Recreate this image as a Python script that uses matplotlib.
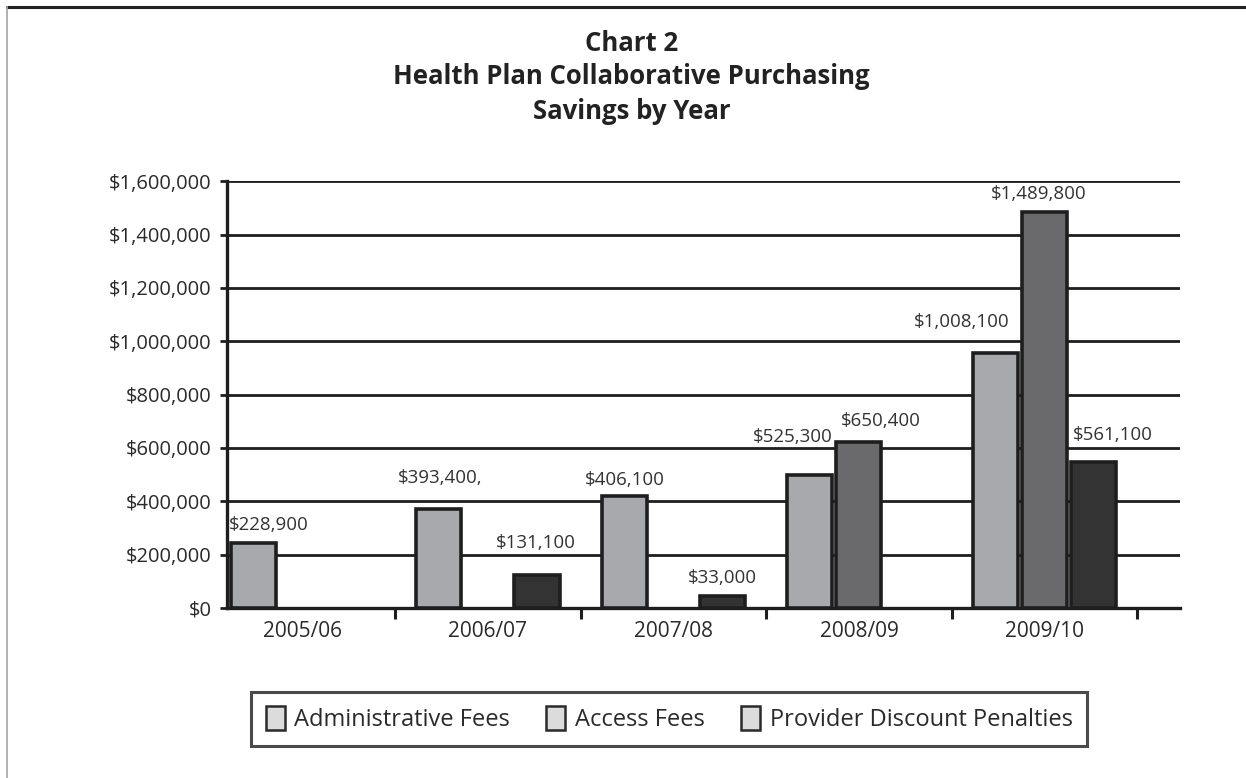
import matplotlib.pyplot as plt
from matplotlib.lines import Line2D
from matplotlib.patches import Patch
import numpy as np

plt.rcParams['font.family'] = ['Open Sans', 'DejaVu Sans']

years = ['2005/06', '2006/07', '2007/08', '2008/09', '2009/10']
series = ['Administrative Fees', 'Access Fees', 'Provider Discount Penalties']

# bar heights as drawn in the picture
admin_fees = [242000, 370000, 420000, 500000, 957000]
access_fees = [0, 0, 0, 624000, 1485000]
provider_penalties = [0, 122000, 45000, 0, 549000]

# value labels as printed
admin_labels = ['$228,900', '$393,400,', '$406,100', '$525,300', '$1,008,100']
access_labels = ['', '', '', '$650,400', '$1,489,800']
provider_labels = ['', '$131,100', '$33,000', '', '$561,100']

y_ticks = [0, 200000, 400000, 600000, 800000, 1000000, 1200000, 1400000, 1600000]

colors = ['#a8a9ac', '#6a6a6c', '#333333']
edge = '#1e1e1e'

fig = plt.figure(figsize=(12.46, 7.78), dpi=100)
ax = fig.add_axes([0.182, 0.2185, 0.765, 0.5485])

x = np.arange(len(years))
width = 0.243
step = 0.265
all_vals = [admin_fees, access_fees, provider_penalties]
all_labels = [admin_labels, access_labels, provider_labels]
# small pixel nudges for the value labels (dx, dy)
nudges = [
    [(16, 14), (2, 26), (1, 11), (-17, 33), (-34, 26)],
    [(0, 0), (0, 0), (0, 0), (22, 16), (-6, 13)],
    [(0, 0), (-1, 28), (0, 13), (0, 0), (19, 22)],
]

for k, (vals, labs) in enumerate(zip(all_vals, all_labels)):
    xs = x + (k - 1) * step
    for i in range(len(years)):
        if vals[i] <= 0:
            continue
        ax.bar(xs[i], vals[i], width, color=colors[k], edgecolor=edge,
               linewidth=2.6, zorder=3)
        dx, dy = nudges[k][i]
        ax.annotate(labs[i], (xs[i], vals[i]), xytext=(dx * 0.72, dy * 0.72 - 3),
                    textcoords='offset points', ha='center', va='bottom',
                    fontsize=13.5, color='#333333', zorder=4)

ax.set_ylim(0, 1600000)
ax.set_xlim(-0.407, 4.73)
ax.set_yticks(y_ticks)
ax.set_yticklabels(['${:,.0f}'.format(v) for v in y_ticks], fontsize=14.5,
                   color='#2a2a2a')
ax.yaxis.grid(True, color='#1e1e1e', linewidth=2.0, zorder=0)
ax.set_axisbelow(True)

ax.set_xticks(x)
ax.set_xticklabels(years, fontsize=15, color='#2a2a2a')
ax.tick_params(axis='x', length=0, pad=9)
ax.set_xticks(x + 0.5, minor=True)
ax.tick_params(axis='x', which='minor', length=8, width=2.2, color='#1e1e1e')
ax.tick_params(axis='y', length=5, width=2.0, color='#1e1e1e', pad=6)

for s in ['top', 'right']:
    ax.spines[s].set_visible(False)
for s in ['left', 'bottom']:
    ax.spines[s].set_linewidth(2.4)
    ax.spines[s].set_color('#1e1e1e')

fig.text(0.507, 0.944, 'Chart 2', ha='center', va='center', fontsize=18.5,
         fontweight='bold', color='#222222')
fig.text(0.507, 0.902, 'Health Plan Collaborative Purchasing', ha='center',
         va='center', fontsize=18.5, fontweight='bold', color='#222222')
fig.text(0.507, 0.857, 'Savings by Year', ha='center', va='center',
         fontsize=18.5, fontweight='bold', color='#222222')

handles = [Patch(facecolor='#dcdcdc', edgecolor='#2a2a2a', linewidth=1.8)
           for _ in series]
leg = fig.legend(handles, series, loc='center', bbox_to_anchor=(0.537, 0.076),
                 ncol=3, fontsize=17, frameon=True, fancybox=False,
                 handlelength=0.8, handleheight=1.2, handletextpad=0.4,
                 columnspacing=1.55, borderpad=0.6)
leg.get_frame().set_edgecolor('#1e1e1e')
leg.get_frame().set_linewidth(2.2)
for t in leg.get_texts():
    t.set_color('#2a2a2a')

# page frame at top and left
fig.add_artist(Line2D([0.0056, 1.0], [0.991, 0.991], transform=fig.transFigure,
                      color='#222222', linewidth=2.2))
fig.add_artist(Line2D([0.0056, 0.0056], [0.0, 0.991], transform=fig.transFigure,
                      color='#aaaaaa', linewidth=1.3))

fig.savefig('out.png', dpi=100)
